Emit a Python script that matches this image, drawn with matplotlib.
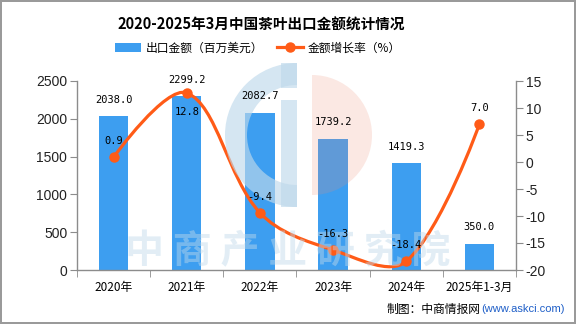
import numpy as np
import matplotlib
matplotlib.use('Agg')
import matplotlib.pyplot as plt
from matplotlib.path import Path
from matplotlib.patches import PathPatch, Wedge, Rectangle, Patch
from matplotlib.lines import Line2D

plt.rcParams['font.family'] = ['Noto Sans CJK SC', 'DejaVu Sans']
plt.rcParams['axes.unicode_minus'] = False

# данные
categories = ['2020年', '2021年', '2022年', '2023年', '2024年', '2025年1-3月']
export_value = [2038.0, 2299.2, 2082.7, 1739.2, 1419.3, 350.0]
growth_rate = [0.9, 12.8, -9.4, -16.3, -18.4, 7.0]
rate_label_below = [False, True, False, False, False, False]

bar_color = '#3d9ef0'
line_color = '#ff5b17'
axis_color = '#8c8c8c'

W, H = 576, 324
fig = plt.figure(figsize=(W / 100, H / 100), dpi=100, edgecolor='#9a9a9a', linewidth=1.5)

ax = fig.add_axes([77 / W, (H - 270) / H, (516 - 77) / W, (270 - 81) / H])
ax2 = ax.twinx()

x = np.arange(len(categories))
ax.bar(x, export_value, width=0.4, color=bar_color, zorder=2)
ax.set_xlim(-0.5, len(categories) - 0.5)
ax.set_ylim(0, 2500)
ax.set_yticks(np.arange(0, 2501, 500))
ax2.set_ylim(-20, 15)
ax2.set_yticks(np.arange(-20, 16, 5))

ax.set_xticks(x)
ax.set_xticklabels(categories, fontsize=8.5)
ax.set_xticks(np.arange(-0.5, len(categories), 1), minor=True)
ax.tick_params(axis='x', which='major', length=0, pad=8)
ax.tick_params(axis='x', which='minor', length=5, color=axis_color, direction='out')

for a in (ax, ax2):
    for sp in a.spines.values():
        sp.set_visible(False)
    a.patch.set_visible(False)
ax.spines['left'].set_visible(True)
ax.spines['bottom'].set_visible(True)
ax2.spines['right'].set_visible(True)
for sp in (ax.spines['left'], ax.spines['bottom'], ax2.spines['right']):
    sp.set_color(axis_color)
    sp.set_linewidth(1)

ax.tick_params(axis='y', length=5, color=axis_color, pad=2)
ax2.tick_params(axis='y', length=5, color=axis_color, pad=2)
for lab in ax.get_yticklabels() + ax2.get_yticklabels():
    lab.set_family('Liberation Sans')
    lab.set_fontsize(10)
    lab.set_color('#222222')


# сглаженная линия (безье как в echarts)
def smooth_line(a, xs, ys, s=0.35):
    pts = a.transData.transform(np.column_stack([xs, ys]))
    n = len(pts)
    cin = [p.copy() for p in pts]
    cout = [p.copy() for p in pts]
    for i in range(1, n - 1):
        v = pts[i + 1] - pts[i - 1]
        d0 = np.linalg.norm(pts[i] - pts[i - 1])
        d1 = np.linalg.norm(pts[i + 1] - pts[i])
        cin[i] = pts[i] - v * s * d0 / (d0 + d1)
        cout[i] = pts[i] + v * s * d1 / (d0 + d1)
    verts = [pts[0]]
    codes = [Path.MOVETO]
    for i in range(n - 1):
        verts += [cout[i], cin[i + 1], pts[i + 1]]
        codes += [Path.CURVE4] * 3
    verts = a.transData.inverted().transform(np.array(verts))
    return Path(verts, codes)


ax2.add_patch(PathPatch(smooth_line(ax2, x, growth_rate), fill=False,
                        edgecolor=line_color, linewidth=2.3, zorder=3))
ax2.plot(x, growth_rate, 'o', color=line_color, markersize=6.5, zorder=4)

# заголовок и легенда
fig.text(261 / W, 1 - 25 / H, '2020-2025年3月中国茶叶出口金额统计情况',
         ha='center', va='center', fontsize=10.5, fontweight='bold')
handles = [Patch(facecolor=bar_color, edgecolor='none'),
           Line2D([], [], color=line_color, lw=2.3, marker='o', markersize=6.5)]
fig.legend(handles, ['出口金额（百万美元）', '金额增长率（%）'], loc='center',
           bbox_to_anchor=(258 / W, 1 - 48 / H), ncol=2, frameon=False, fontsize=8.5,
           handlelength=2.2, handleheight=0.7, columnspacing=1.2, handletextpad=0.4)

# подпись источника
t = fig.text(387 / W, 1 - 309 / H, '制图：中商情报网', ha='left', va='center', fontsize=8.5)
ax.annotate('(www.askci.com)', xy=(1, 0.5), xycoords=t, ha='left', va='center',
            fontsize=8, color='#1f5fc8', family='Liberation Sans', annotation_clip=False)

# водяной знак (поверх столбцов и линии)
ov = fig.add_axes([0, 0, 1, 1], zorder=5)
ov.set_xlim(0, W)
ov.set_ylim(H, 0)
ov.axis('off')
wm_blue = (0.75, 0.85, 0.92)
wm_peach = (0.93, 0.55, 0.45)
ov.add_patch(Wedge((297, 135), 72, 90, 270, width=22, facecolor=wm_blue, alpha=0.65, lw=0))
ov.add_patch(Rectangle((281, 63), 16, 25, facecolor=wm_blue, alpha=0.65, lw=0))
ov.add_patch(Rectangle((281, 100), 16, 107, facecolor=wm_blue, alpha=0.65, lw=0))
ov.add_patch(Wedge((312, 135), 60, -90, 90, facecolor=wm_peach, alpha=0.2, lw=0))
ov.text(288, 252, '中 商 产 业 研 究 院', ha='center', va='center', fontsize=28,
        fontweight='bold', color=wm_blue, alpha=0.45)

# подписи значений поверх водяного знака
for xi, v in zip(x, export_value):
    ov.annotate(f'{v:.1f}', (xi, v), xycoords=ax.transData, xytext=(0, 8),
                textcoords='offset points', ha='center', va='bottom',
                fontsize=7.5, family='DejaVu Sans Mono', zorder=10)
for xi, v, below in zip(x, growth_rate, rate_label_below):
    off = (0, -10) if below else (0, 8)
    ov.annotate(f'{v:.1f}', (xi, v), xycoords=ax2.transData, xytext=off,
                textcoords='offset points', ha='center', va='top' if below else 'bottom',
                fontsize=7.5, family='DejaVu Sans Mono', zorder=10)

fig.savefig('out.png', dpi=100)
